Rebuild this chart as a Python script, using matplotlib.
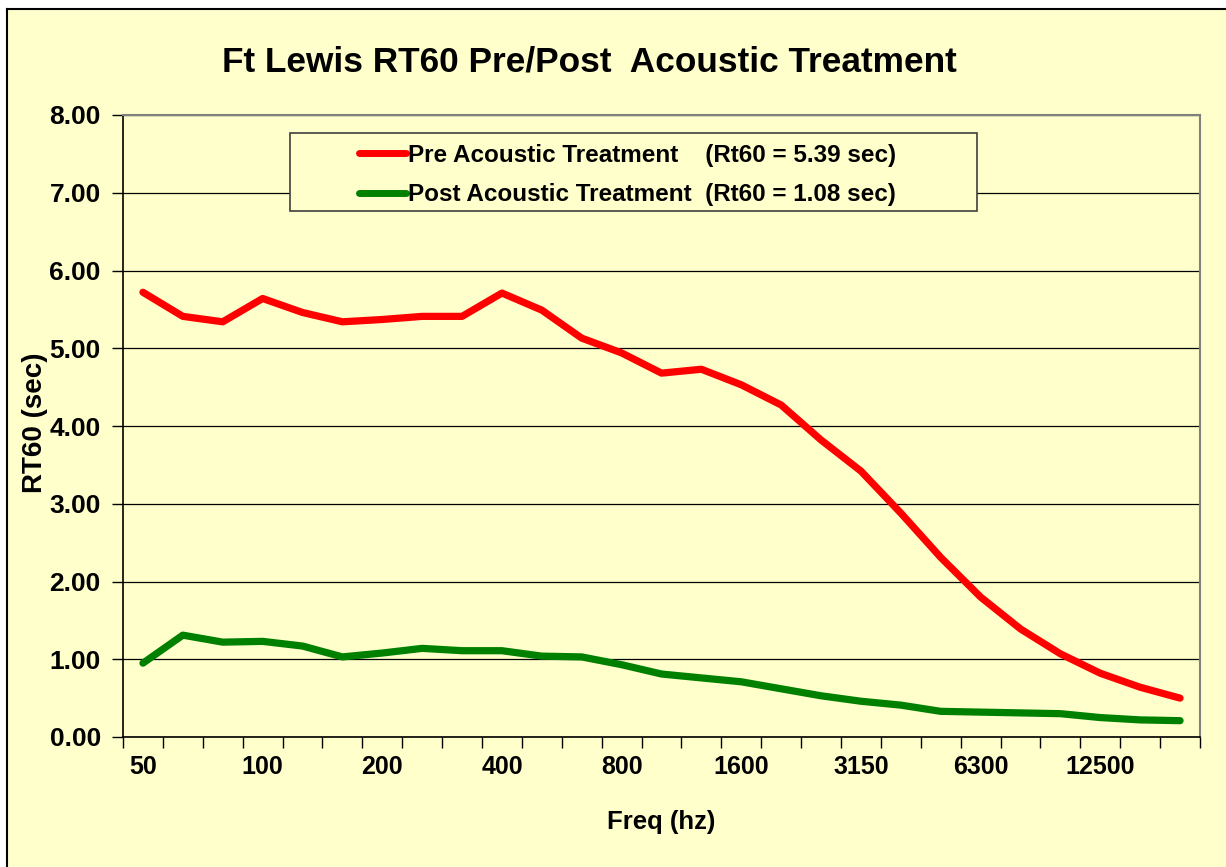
import matplotlib
matplotlib.use("Agg")
import matplotlib.pyplot as plt
from matplotlib.patches import Rectangle
from matplotlib.lines import Line2D

freq_bands = ["50", "63", "80", "100", "125", "160", "200", "250", "315", "400",
              "500", "630", "800", "1000", "1250", "1600", "2000", "2500", "3150",
              "4000", "5000", "6300", "8000", "10000", "12500", "16000", "20000"]
pre_rt60 = [5.72, 5.41, 5.34, 5.64, 5.46, 5.34, 5.37, 5.41, 5.41, 5.71,
            5.49, 5.13, 4.94, 4.68, 4.73, 4.53, 4.27, 3.82, 3.42, 2.88,
            2.31, 1.80, 1.39, 1.07, 0.82, 0.64, 0.50]
post_rt60 = [0.95, 1.31, 1.22, 1.23, 1.17, 1.03, 1.08, 1.14, 1.11, 1.11,
             1.04, 1.03, 0.93, 0.81, 0.76, 0.71, 0.62, 0.53, 0.46, 0.41,
             0.33, 0.32, 0.31, 0.30, 0.25, 0.22, 0.21]
shown_labels = ["50", "100", "200", "400", "800", "1600", "3150", "6300", "12500"]
pre_label = "Pre Acoustic Treatment    (Rt60 = 5.39 sec)"
post_label = "Post Acoustic Treatment  (Rt60 = 1.08 sec)"
title = "Ft Lewis RT60 Pre/Post  Acoustic Treatment"

YELLOW = "#FFFFCC"
W, H = 1226, 867
plt.rcParams["font.family"] = ["Liberation Sans", "DejaVu Sans"]
plt.rcParams["font.weight"] = "bold"

fig = plt.figure(figsize=(W / 100, H / 100), dpi=100)
fig.patch.set_facecolor("white")
fig.add_artist(Rectangle((7 / W, 0), 1, 1 - 9 / H, transform=fig.transFigure,
                         facecolor=YELLOW, edgecolor="none", zorder=-10))
fig.add_artist(Line2D([7 / W, 1], [1 - 9 / H, 1 - 9 / H], transform=fig.transFigure,
                      color="black", lw=1.5))
fig.add_artist(Line2D([7 / W, 7 / W], [0, 1 - 9 / H], transform=fig.transFigure,
                      color="black", lw=1.5))

left, right, top, bottom = 123, 1200, 115, 737
aw, ah = right - left, bottom - top
ax = fig.add_axes([left / W, 1 - bottom / H, aw / W, ah / H])
ax.set_facecolor(YELLOW)

n = len(freq_bands)
x = list(range(n))
ax.plot(x, pre_rt60, color="#FF0000", lw=5.2, solid_capstyle="round",
        solid_joinstyle="round", label=pre_label, zorder=3)
ax.plot(x, post_rt60, color="#008000", lw=5.2, solid_capstyle="round",
        solid_joinstyle="round", label=post_label, zorder=3)

ax.set_xlim(-0.5, n - 0.5)
ax.set_ylim(0, 8)
ax.set_yticks([i for i in range(9)])
ax.set_yticklabels([f"{i:.2f}" for i in range(9)], fontsize=19, fontweight="bold")
ax.yaxis.grid(True, color="black", lw=0.9)
ax.set_axisbelow(True)

ax.set_xticks([i - 0.5 for i in range(n + 1)], minor=True)
major_pos = [freq_bands.index(l) for l in shown_labels]
ax.set_xticks(major_pos)
ax.set_xticklabels(shown_labels, fontsize=18, fontweight="bold")
ax.tick_params(axis="x", which="major", length=0, pad=13)
ax.tick_params(axis="x", which="minor", length=8, width=1, direction="out", color="black")
ax.tick_params(axis="y", length=8, width=1, direction="out", pad=8)

for s in ["top", "right"]:
    ax.spines[s].set_color("#808080")
    ax.spines[s].set_linewidth(1.5)
for s in ["left", "bottom"]:
    ax.spines[s].set_color("black")
    ax.spines[s].set_linewidth(1.2)

ax.set_xlabel("Freq (hz)", fontsize=18.5, fontweight="bold")
ax.xaxis.set_label_coords(0.5, -(822 - bottom) / ah)
ax.xaxis.label.set_va("center")
ax.set_ylabel("RT60 (sec)", fontsize=20, fontweight="bold")
ax.yaxis.set_label_coords(-(left - 35) / aw, (bottom - 423) / ah)
ax.yaxis.label.set_va("center")

fig.text(589 / W, 1 - 62 / H, title, ha="center", va="center",
         fontsize=25.4, fontweight="bold")

# legend frame
ax.add_patch(Rectangle(((290 - left) / aw, (bottom - 211) / ah), (977 - 290) / aw,
                       (211 - 133) / ah, transform=ax.transAxes, facecolor=YELLOW,
                       edgecolor="#404040", lw=1.2, zorder=5, clip_on=False))
leg = ax.legend(loc="center", bbox_to_anchor=((628 - left) / aw, (bottom - 175) / ah),
                frameon=False, handlelength=1.9, handletextpad=0.12,
                borderpad=0, labelspacing=0.67,
                prop={"weight": "bold", "size": 17.5})
leg.set_zorder(6)
for h in leg.get_lines():
    h.set_linewidth(5)

fig.savefig("out.png", dpi=100, facecolor=fig.get_facecolor())
